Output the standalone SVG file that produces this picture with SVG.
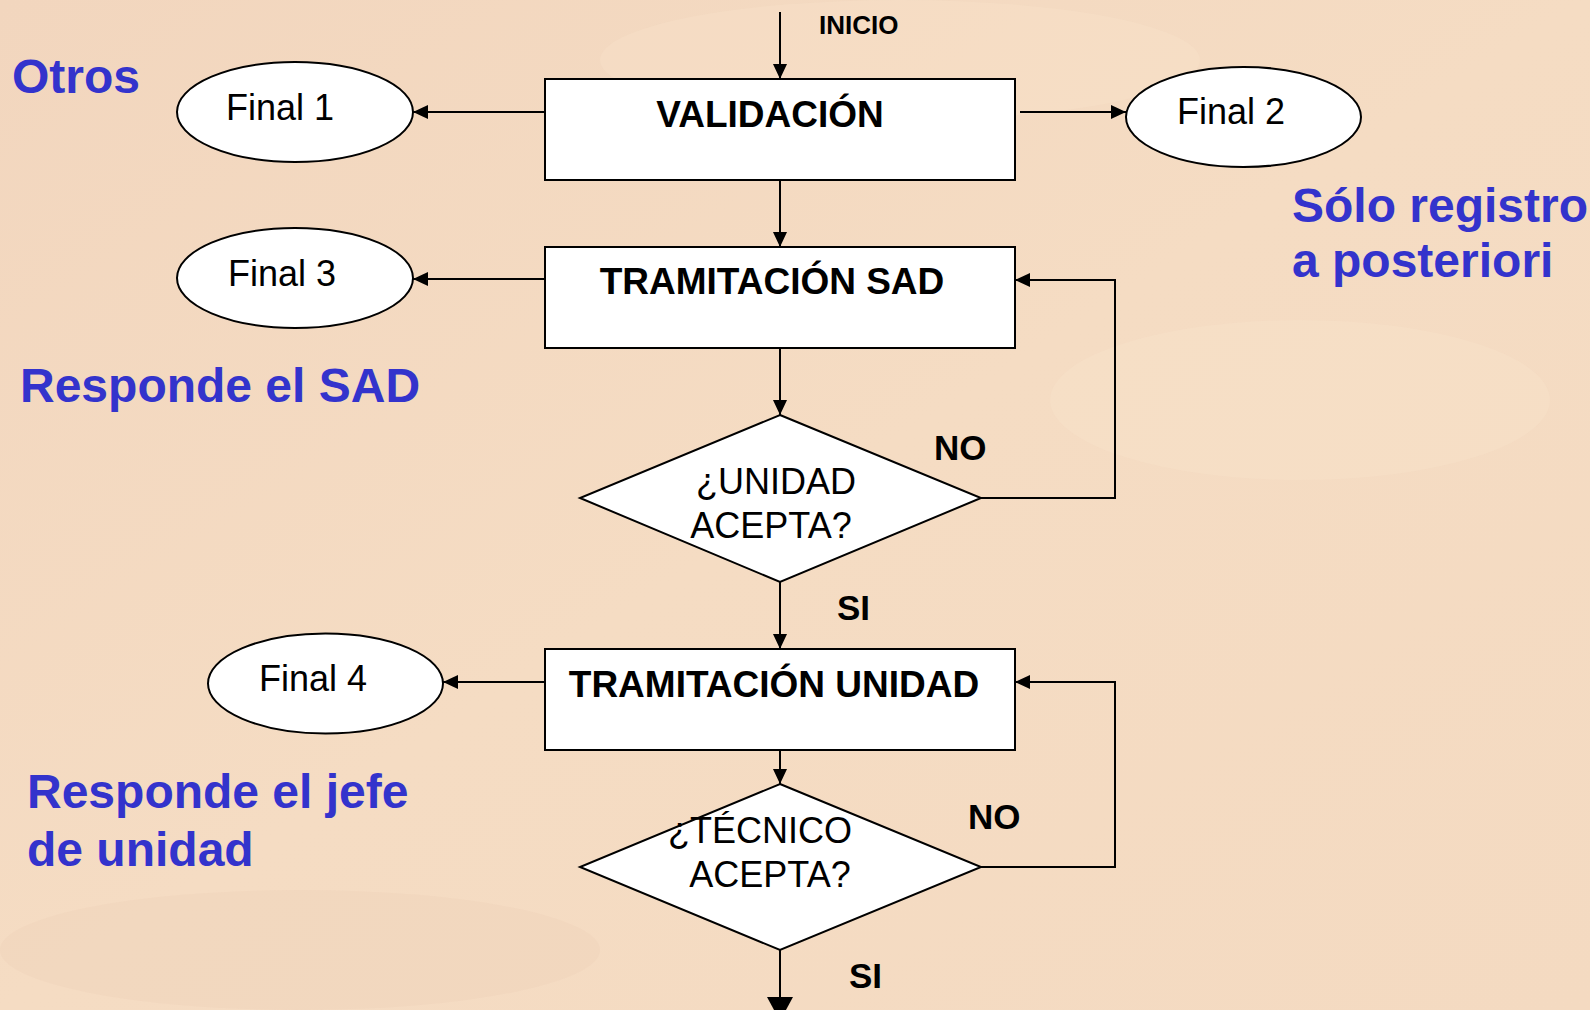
<svg xmlns="http://www.w3.org/2000/svg" width="1590" height="1010" viewBox="0 0 1590 1010">
<defs>
<linearGradient id="bg" x1="0" y1="0" x2="1" y2="1">
<stop offset="0" stop-color="#F2D6BE"/>
<stop offset="0.5" stop-color="#F5DCC3"/>
<stop offset="1" stop-color="#F4DAC1"/>
</linearGradient>
<marker id="ah" viewBox="0 0 15 14" refX="15" refY="7" markerWidth="15" markerHeight="14" markerUnits="userSpaceOnUse" orient="auto">
<path d="M0,0 L15,7 L0,14 Z" fill="#000"/>
</marker>
<marker id="ahb" viewBox="0 0 24 26" refX="24" refY="13" markerWidth="24" markerHeight="26" markerUnits="userSpaceOnUse" orient="auto">
<path d="M0,0 L24,13 L0,26 Z" fill="#000"/>
</marker>
<style>
.box{fill:#fff;stroke:#000;stroke-width:2}
.bt{font-family:"Liberation Sans",Arial,sans-serif;font-weight:bold;font-size:37px;fill:#000}
.rt{font-family:"Liberation Sans",Arial,sans-serif;font-size:36px;fill:#000}
.lb{font-family:"Liberation Sans",Arial,sans-serif;font-weight:bold;font-size:35px;fill:#000}
.blue{font-family:"Liberation Sans",Arial,sans-serif;font-weight:bold;font-size:48px;fill:#3333CC}
.ln{fill:none;stroke:#000;stroke-width:2}
</style>
</defs>
<rect x="0" y="0" width="1590" height="1010" fill="url(#bg)"/>
<g id="bgdeco" opacity="0.25">
<ellipse cx="900" cy="60" rx="300" ry="60" fill="#FAE6CF"/>
<ellipse cx="1300" cy="400" rx="250" ry="80" fill="#FAE6CF"/>
<ellipse cx="300" cy="950" rx="300" ry="60" fill="#EBCDB3"/>
</g>
<g id="connectors">
<line class="ln" x1="780" y1="12" x2="780" y2="79" marker-end="url(#ah)"/>
<line class="ln" x1="545" y1="112" x2="413" y2="112" marker-end="url(#ah)"/>
<line class="ln" x1="1020" y1="112" x2="1126" y2="112" marker-end="url(#ah)"/>
<line class="ln" x1="780" y1="180" x2="780" y2="247" marker-end="url(#ah)"/>
<line class="ln" x1="545" y1="279" x2="413" y2="279" marker-end="url(#ah)"/>
<line class="ln" x1="780" y1="348" x2="780" y2="415" marker-end="url(#ah)"/>
<polyline class="ln" points="981,498 1115,498 1115,280 1015,280" marker-end="url(#ah)"/>
<line class="ln" x1="780" y1="582" x2="780" y2="649" marker-end="url(#ah)"/>
<line class="ln" x1="545" y1="682" x2="443" y2="682" marker-end="url(#ah)"/>
<line class="ln" x1="780" y1="750" x2="780" y2="784" marker-end="url(#ah)"/>
<polyline class="ln" points="981,867 1115,867 1115,682 1015,682" marker-end="url(#ah)"/>
<line class="ln" x1="780" y1="950" x2="780" y2="1021" marker-end="url(#ahb)"/>
</g>
<g id="inicio"><text class="lb" x="819" y="34" style="font-size:26px">INICIO</text></g>
<g id="validacion">
<rect class="box" x="545" y="79" width="470" height="101"/>
<text class="bt" x="770" y="127" text-anchor="middle">VALIDACIÓN</text>
</g>
<g id="final1">
<ellipse class="box" cx="295" cy="112" rx="118" ry="50"/>
<text class="rt" x="280" y="120" text-anchor="middle">Final 1</text>
</g>
<g id="final2">
<ellipse class="box" cx="1243.5" cy="117" rx="117.5" ry="50"/>
<text class="rt" x="1231" y="124" text-anchor="middle">Final 2</text>
</g>
<g id="tramsad">
<rect class="box" x="545" y="247" width="470" height="101"/>
<text class="bt" x="772" y="294" text-anchor="middle">TRAMITACIÓN SAD</text>
</g>
<g id="final3">
<ellipse class="box" cx="295" cy="278" rx="118" ry="50"/>
<text class="rt" x="282" y="286" text-anchor="middle">Final 3</text>
</g>
<g id="unidadacepta">
<polygon class="box" points="780,415 981,498 780,582 580,498"/>
<text class="rt" x="776" y="494" text-anchor="middle">¿UNIDAD</text>
<text class="rt" x="771" y="538" text-anchor="middle">ACEPTA?</text>
</g>
<g id="tramunidad">
<rect class="box" x="545" y="649" width="470" height="101"/>
<text class="bt" x="774" y="697" text-anchor="middle">TRAMITACIÓN UNIDAD</text>
</g>
<g id="final4">
<ellipse class="box" cx="325.5" cy="683.5" rx="117.5" ry="50"/>
<text class="rt" x="313" y="691" text-anchor="middle">Final 4</text>
</g>
<g id="tecnicoacepta">
<polygon class="box" points="780,784 981,867 780,950 580,867"/>
<text class="rt" x="760" y="843" text-anchor="middle">¿TÉCNICO</text>
<text class="rt" x="770" y="887" text-anchor="middle">ACEPTA?</text>
</g>
<g id="labels">
<text class="lb" x="934" y="460">NO</text>
<text class="lb" x="837" y="620">SI</text>
<text class="lb" x="968" y="829">NO</text>
<text class="lb" x="849" y="988">SI</text>
</g>
<g id="notes">
<text class="blue" x="12" y="93">Otros</text>
<text class="blue" x="1292" y="222">Sólo registro</text>
<text class="blue" x="1292" y="277">a posteriori</text>
<text class="blue" x="20" y="402">Responde el SAD</text>
<text class="blue" x="27" y="808">Responde el jefe</text>
<text class="blue" x="27" y="866">de unidad</text>
</g>
</svg>
